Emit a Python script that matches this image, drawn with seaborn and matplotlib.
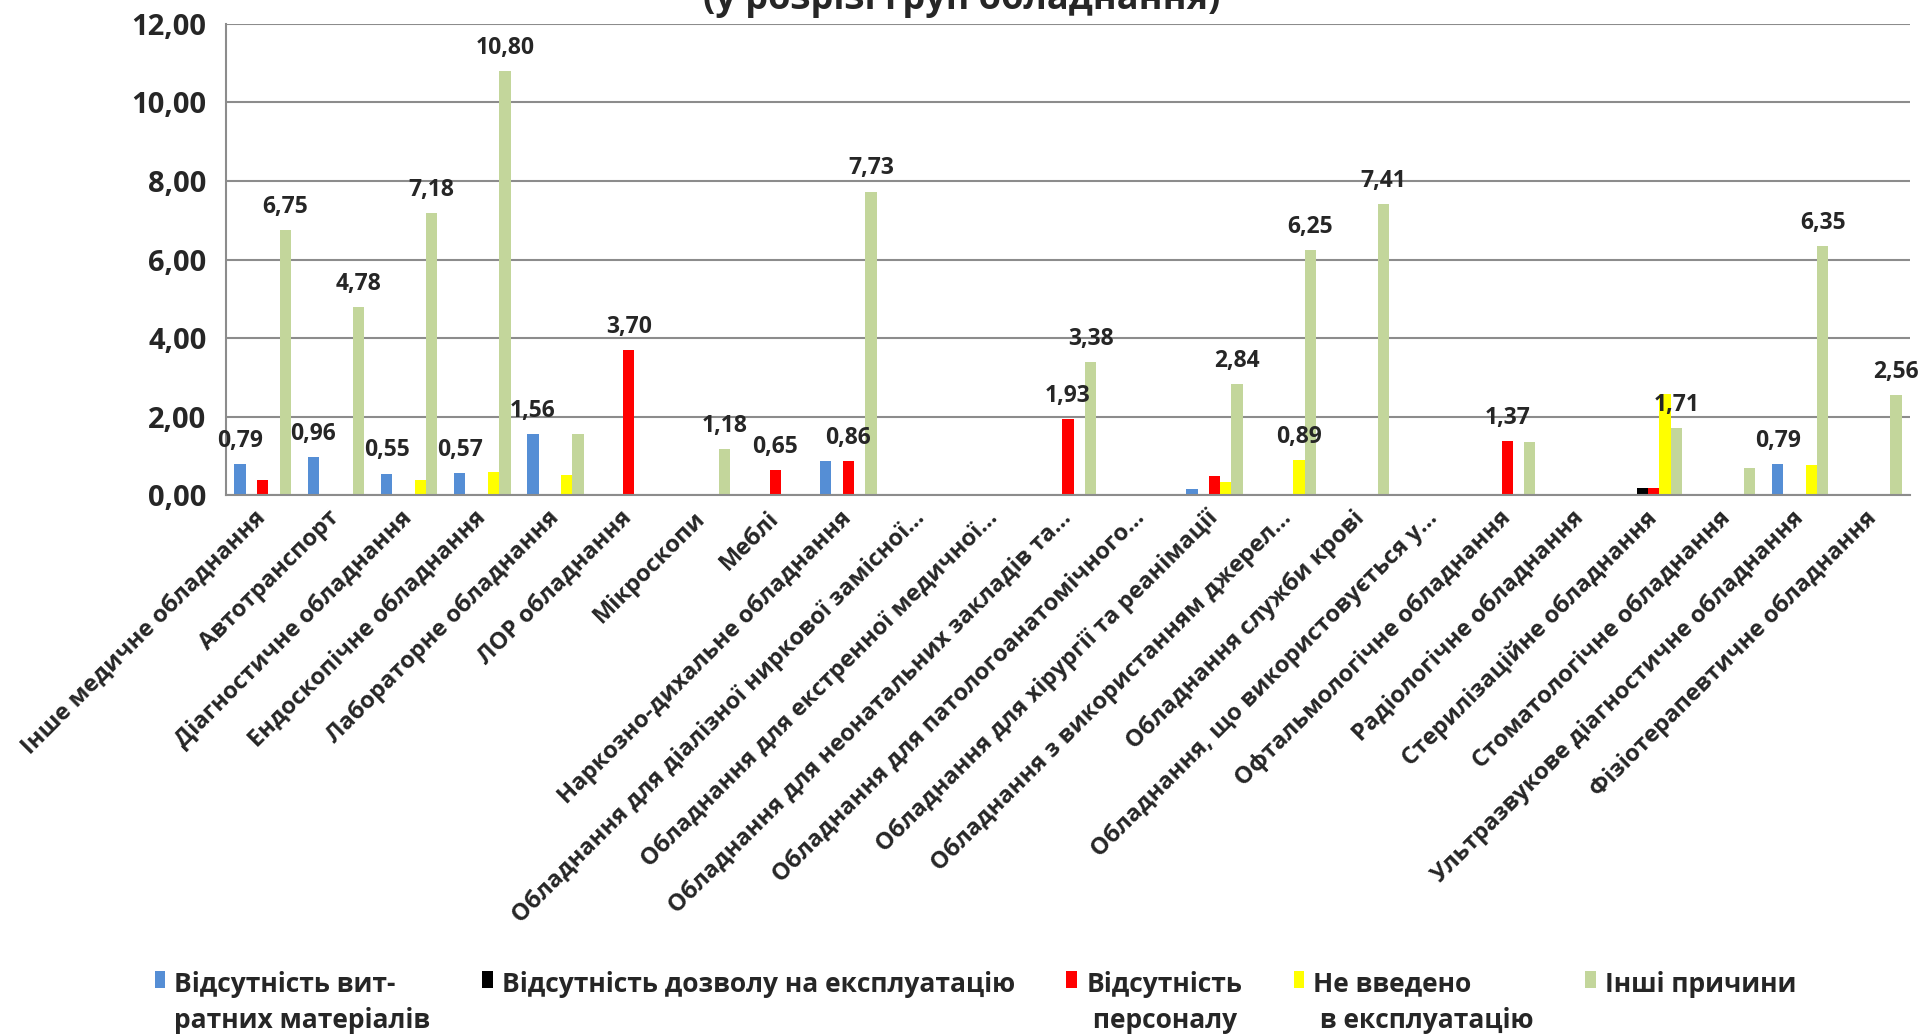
import matplotlib.pyplot as plt
import matplotlib.ticker as mticker
import pandas as pd
import seaborn as sns

# equipment groups (x axis)
categories = [
    'Інше медичне обладнання',
    'Автотранспорт',
    'Діагностичне обладнання',
    'Ендоскопічне обладнання',
    'Лабораторне обладнання',
    'ЛОР обладнання',
    'Мікроскопи',
    'Меблі',
    'Наркозно-дихальне обладнання',
    'Обладнання для діалізної ниркової замісної…',
    'Обладнання для екстренної медичної…',
    'Обладнання для неонатальних закладів та…',
    'Обладнання для патологоанатомічного…',
    'Обладнання для хірургії та реанімації',
    'Обладнання з використанням джерел…',
    'Обладнання служби крові',
    'Обладнання, що використовується у…',
    'Офтальмологічне обладнання',
    'Радіологічне обладнання',
    'Стерилізаційне обладнання',
    'Стоматологічне обладнання',
    'Ультразвукове діагностичне обладнання',
    'Фізіотерапевтичне обладнання',
]

reasons = [
    'Відсутність витратних матеріалів',
    'Відсутність дозволу на експлуатацію',
    'Відсутність персоналу',
    'Не введено в експлуатацію',
    'Інші причини',
]
legend_labels = [
    'Відсутність вит-\nратних матеріалів',
    'Відсутність дозволу на експлуатацію',
    'Відсутність\n персоналу',
    'Не введено\n в експлуатацію',
    'Інші причини',
]
colors = ['#558ED5', '#000000', '#FF0000', '#FFFF00', '#C3D69B']

no_supplies = [0.79, 0.96, 0.55, 0.57, 1.56, 0, 0, 0, 0.86, 0, 0, 0,
               0, 0.17, 0, 0, 0, 0, 0, 0, 0, 0.79, 0]
no_permit = [0, 0, 0, 0, 0, 0, 0, 0, 0, 0, 0, 0,
             0, 0, 0, 0, 0, 0, 0, 0.18, 0, 0, 0]
no_staff = [0.39, 0, 0, 0, 0, 3.70, 0, 0.65, 0.86, 0, 0, 1.93,
            0, 0.48, 0, 0, 0, 1.37, 0, 0.18, 0, 0, 0]
not_commissioned = [0, 0, 0.39, 0.58, 0.52, 0, 0, 0, 0, 0, 0, 0,
                    0, 0.34, 0.89, 0, 0, 0, 0, 2.57, 0, 0.78, 0]
other = [6.75, 4.78, 7.18, 10.80, 1.57, 0, 1.18, 0, 7.73, 0, 0, 3.38,
         0, 2.84, 6.25, 7.41, 0, 1.35, 0, 1.71, 0.68, 6.35, 2.56]

# (category index, reason index) of bars that carry a value label
data_labels = [(0, 0), (0, 4), (1, 0), (1, 4), (2, 0), (2, 4), (3, 0), (3, 4),
               (4, 0), (5, 2), (6, 4), (7, 2), (8, 2), (8, 4), (11, 2), (11, 4),
               (13, 4), (14, 3), (14, 4), (15, 4), (17, 2), (19, 4), (21, 0),
               (21, 4), (22, 4)]

series = [no_supplies, no_permit, no_staff, not_commissioned, other]
rows = []
for reason, values in zip(reasons, series):
    for cat, v in zip(categories, values):
        rows.append({'category': cat, 'reason': reason, 'value': v})
df = pd.DataFrame(rows)

sns.set_style('white')
plt.rcParams['font.family'] = ['Open Sans', 'DejaVu Sans']
plt.rcParams['font.weight'] = 'bold'

fig, ax = plt.subplots(figsize=(19.24, 10.36), dpi=100)
fig.subplots_adjust(left=0.1175, right=0.9927, bottom=0.522, top=0.977)

sns.barplot(data=df, x='category', y='value', hue='reason', order=categories,
            hue_order=reasons, palette=colors, width=0.77, linewidth=0,
            saturation=1, ax=ax)

# value labels
for ci, ri in data_labels:
    bar = ax.containers[ri].patches[ci]
    h = bar.get_height()
    ax.annotate(f'{h:.2f}'.replace('.', ','),
                (bar.get_x() + bar.get_width() / 2, h),
                xytext=(0, 8), textcoords='offset points',
                ha='center', va='bottom', fontsize=16.5, fontweight='bold')

# axes formatting
grid_col = '#8C8C8C'
ax.set_ylim(0, 12)
ax.set_xlim(-0.5, len(categories) - 0.5)
ax.set_yticks(range(0, 13, 2))
ax.yaxis.set_major_formatter(mticker.FuncFormatter(lambda v, p: f'{v:.2f}'.replace('.', ',')))
ax.yaxis.grid(True, color=grid_col, linewidth=1.5)
ax.set_axisbelow(True)
for side in ['top', 'right']:
    ax.spines[side].set_visible(False)
for side in ['left', 'bottom']:
    ax.spines[side].set_color(grid_col)
    ax.spines[side].set_linewidth(1.5)

ax.set_xticks([i - 0.5 for i in range(len(categories) + 1)], minor=True)
ax.tick_params(axis='x', which='minor', length=8, width=1.5, color=grid_col, direction='out')
ax.tick_params(axis='x', which='major', length=0, pad=14)
ax.tick_params(axis='y', length=0, pad=14, labelsize=21)
ax.set_xticks(range(len(categories)))
ax.set_xticklabels(categories, rotation=45, ha='right', va='center',
                   rotation_mode='anchor', fontsize=17, fontweight='bold')
for lab in ax.get_yticklabels():
    lab.set_fontweight('bold')
ax.set_xlabel(None)
ax.set_ylabel(None)

# legend at the bottom, marker next to the first line of each label
handles, _ = ax.get_legend_handles_labels()
ax.legend_.remove()
leg = fig.legend(handles, legend_labels, loc='upper left', bbox_to_anchor=(0.068, 0.086),
                 ncol=5, frameon=False, fontsize=19, handlelength=0.4, handleheight=0.65,
                 handletextpad=0.35, columnspacing=1.95)
for t in leg.get_texts():
    t.set_linespacing(1.45)
leg._legend_handle_box.align = 'top'
for col in leg._legend_handle_box.get_children():
    col.align = 'left'
    for item in col.get_children():
        item.align = 'top'

# title is cut off at the top edge in the original
fig.text(0.5, 1 - 9 / 1036, '(у розрізі груп обладнання)', ha='center',
         va='baseline', fontsize=26, fontweight='bold')

fig.savefig('out.png', dpi=100)
